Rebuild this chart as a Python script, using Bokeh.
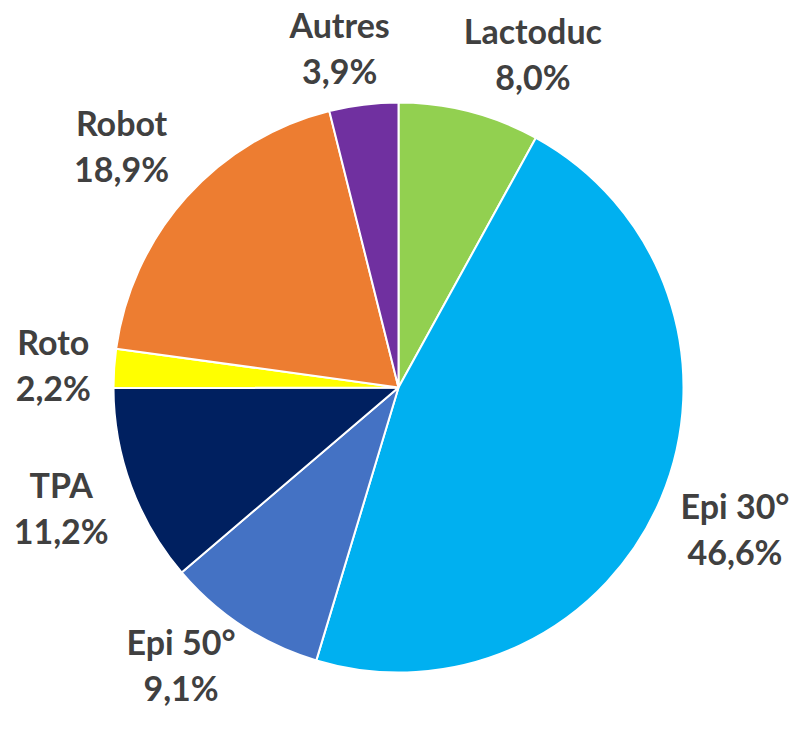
import math
from bokeh.plotting import figure
from bokeh.models import Range1d, ColumnDataSource
from bokeh.core.properties import value
from bokeh.embed import file_html
from bokeh.resources import INLINE

# Data (clockwise from 12 o'clock)
categories = ["Lactoduc", "Epi 30°", "Epi 50°", "TPA", "Roto", "Robot", "Autres"]
shares = [8.0, 46.6, 9.1, 11.2, 2.2, 18.9, 3.9]
colors = ["#92D050", "#00B0F0", "#4472C4", "#002060", "#FFFF00", "#ED7D31", "#7030A0"]

# Label layout (distance from centre in px, angular nudge in degrees)
label_dist = [360, 365, 352, 358, 346, 368, 345]
label_shift = [7.5, 0.0, 5.0, 0.7, 0.0, -0.7, -2.8]

W, H = 790, 713
cx, cy = 398, H - 387
R = 285

p = figure(width=W, height=H, output_backend="svg", toolbar_location=None,
           x_range=Range1d(0, W), y_range=Range1d(0, H), min_border=0)
p.axis.visible = False
p.grid.visible = False
p.outline_line_color = None
p.background_fill_color = "white"

total = sum(shares)
starts, ends, mids = [], [], []
cum = 0.0
for s in shares:
    a0 = cum / total * 2 * math.pi
    cum += s
    a1 = cum / total * 2 * math.pi
    starts.append(math.pi / 2 - a0)
    ends.append(math.pi / 2 - a1)
    mids.append((a0 + a1) / 2)

src = ColumnDataSource(dict(start=starts, end=ends, color=colors))
p.wedge(x=cx, y=cy, radius=R, start_angle="start", end_angle="end",
        direction="clock", fill_color="color", line_color="white",
        line_width=2, source=src)

lx1, ly1, t1, lx2, ly2, t2 = [], [], [], [], [], []
for cat, s, m, d, sh in zip(categories, shares, mids, label_dist, label_shift):
    th = m + math.radians(sh)
    x = cx + d * math.sin(th)
    y = cy + d * math.cos(th)
    lx1.append(x); ly1.append(y + 23); t1.append(cat)
    lx2.append(x); ly2.append(y - 23); t2.append(f"{s:.1f}%".replace(".", ","))

for xs, ys, ts in ((lx1, ly1, t1), (lx2, ly2, t2)):
    p.text(x=xs, y=ys, text=ts, text_align="center", text_baseline="middle",
           text_font=value("Lato"), text_font_style="bold",
           text_font_size="34px", text_color="#404040")

open("out.html", "w").write(file_html(p, INLINE))
